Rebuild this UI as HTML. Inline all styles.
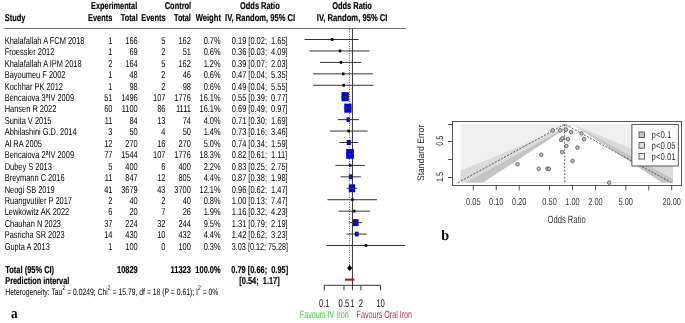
<!DOCTYPE html>
<html><head><meta charset="utf-8"><style>
html,body{margin:0;padding:0;background:#fff;width:685px;height:323px;overflow:hidden}
svg{display:block;font-family:"Liberation Sans",sans-serif;will-change:transform;text-rendering:geometricPrecision;filter:blur(0.3px)}
</style></head><body>
<svg width="685" height="323" viewBox="0 0 685 323">
<g><line x1="4.3" y1="28.5" x2="406" y2="28.5" stroke="#6e6e6e" stroke-width="1.1"/><line x1="352.45" y1="28.5" x2="352.45" y2="285.3" stroke="#333" stroke-width="1"/><line x1="349.57" y1="29" x2="349.57" y2="266" stroke="#555" stroke-width="1" stroke-dasharray="1,1.4"/><rect x="341.50" y="92.17" width="7.29" height="9.11" fill="#0000dd"/><rect x="344.27" y="103.61" width="7.29" height="9.11" fill="#0000dd"/><rect x="346.45" y="117.34" width="3.63" height="4.54" fill="#0000dd"/><rect x="346.74" y="139.96" width="4.06" height="5.08" fill="#0000dd"/><rect x="346.14" y="149.08" width="7.77" height="9.71" fill="#0000dd"/><rect x="348.84" y="174.45" width="3.81" height="4.76" fill="#0000dd"/><rect x="348.79" y="184.32" width="6.32" height="7.90" fill="#0000dd"/><rect x="352.95" y="219.11" width="5.60" height="7.00" fill="#0000dd"/><rect x="354.83" y="231.67" width="3.81" height="4.76" fill="#0000dd"/><line x1="304.62" y1="39.50" x2="358.57" y2="39.50" stroke="#333" stroke-width="1"/><line x1="309.58" y1="50.94" x2="369.67" y2="50.94" stroke="#333" stroke-width="1"/><line x1="319.94" y1="62.39" x2="361.11" y2="62.39" stroke="#333" stroke-width="1"/><line x1="313.10" y1="73.83" x2="372.95" y2="73.83" stroke="#333" stroke-width="1"/><line x1="313.10" y1="85.28" x2="373.40" y2="85.28" stroke="#333" stroke-width="1"/><line x1="340.94" y1="96.72" x2="349.25" y2="96.72" stroke="#333" stroke-width="1"/><line x1="343.73" y1="108.16" x2="352.08" y2="108.16" stroke="#333" stroke-width="1"/><line x1="337.73" y1="119.61" x2="358.87" y2="119.61" stroke="#333" stroke-width="1"/><line x1="330.05" y1="131.05" x2="367.62" y2="131.05" stroke="#333" stroke-width="1"/><line x1="339.26" y1="142.50" x2="358.12" y2="142.50" stroke="#333" stroke-width="1"/><line x1="346.41" y1="153.94" x2="353.73" y2="153.94" stroke="#333" stroke-width="1"/><line x1="335.50" y1="165.38" x2="364.82" y2="165.38" stroke="#333" stroke-width="1"/><line x1="340.62" y1="176.83" x2="360.80" y2="176.83" stroke="#333" stroke-width="1"/><line x1="346.61" y1="188.27" x2="357.16" y2="188.27" stroke="#333" stroke-width="1"/><line x1="327.51" y1="199.72" x2="377.03" y2="199.72" stroke="#333" stroke-width="1"/><line x1="338.52" y1="211.16" x2="370.08" y2="211.16" stroke="#333" stroke-width="1"/><line x1="349.57" y1="222.60" x2="362.03" y2="222.60" stroke="#333" stroke-width="1"/><line x1="346.61" y1="234.05" x2="366.78" y2="234.05" stroke="#333" stroke-width="1"/><line x1="326.53" y1="245.49" x2="405.28" y2="245.49" stroke="#333" stroke-width="1"/><rect x="330.95" y="38.10" width="2.4" height="2.8" fill="#000040"/><rect x="338.76" y="49.54" width="2.4" height="2.8" fill="#000040"/><rect x="339.74" y="60.99" width="2.4" height="2.8" fill="#000040"/><rect x="342.02" y="72.43" width="2.4" height="2.8" fill="#000040"/><rect x="342.53" y="83.88" width="2.4" height="2.8" fill="#000040"/><rect x="347.40" y="129.65" width="2.4" height="2.8" fill="#000040"/><rect x="348.97" y="163.98" width="2.4" height="2.8" fill="#000040"/><rect x="351.25" y="198.32" width="2.4" height="2.8" fill="#000040"/><rect x="353.06" y="209.76" width="2.4" height="2.8" fill="#000040"/><rect x="364.80" y="244.09" width="2.4" height="2.8" fill="#000040"/><polygon points="347.1,268.1 349.57,265.1 352.3,268.1 349.57,271.1" fill="#000"/><rect x="344.92" y="278.6" width="9.45" height="2.1" fill="#a01c1c"/><line x1="324.30" y1="285.3" x2="380.60" y2="285.3" stroke="#333" stroke-width="1"/><line x1="324.30" y1="285.3" x2="324.30" y2="290.3" stroke="#333" stroke-width="1"/><line x1="343.98" y1="285.3" x2="343.98" y2="290.3" stroke="#333" stroke-width="1"/><line x1="352.45" y1="285.3" x2="352.45" y2="290.3" stroke="#333" stroke-width="1"/><line x1="360.92" y1="285.3" x2="360.92" y2="290.3" stroke="#333" stroke-width="1"/><line x1="380.60" y1="285.3" x2="380.60" y2="290.3" stroke="#333" stroke-width="1"/></g>
<g><rect x="460.6" y="124.2" width="212.39999999999998" height="58.41" fill="#efefef"/><polygon points="460.60,170.85 572.50,124.20 673.00,166.10 673.00,182.61 460.60,182.61" fill="#dadada"/><polygon points="572.50,124.20 673.00,179.26 673.00,182.61 465.89,182.61" fill="#c3c3c3"/><polygon points="572.50,124.20 661.97,182.61 483.03,182.61" fill="#ffffff"/><polyline points="458.08,182.61 564.70,124.2 671.31,182.61" fill="none" stroke="#333" stroke-width="0.8" stroke-dasharray="2,1.5"/><line x1="564.70" y1="124.2" x2="564.70" y2="182.61" stroke="#333" stroke-width="0.8" stroke-dasharray="2,1.5"/><ellipse cx="517.52" cy="164.22" rx="1.75" ry="1.85" fill="#c0c0c0" stroke="#5a5a5a" stroke-width="0.85"/><ellipse cx="538.68" cy="168.77" rx="1.75" ry="1.85" fill="#c0c0c0" stroke="#5a5a5a" stroke-width="0.85"/><ellipse cx="541.33" cy="154.74" rx="1.75" ry="1.85" fill="#c0c0c0" stroke="#5a5a5a" stroke-width="0.85"/><ellipse cx="547.50" cy="168.60" rx="1.75" ry="1.85" fill="#c0c0c0" stroke="#5a5a5a" stroke-width="0.85"/><ellipse cx="548.88" cy="168.93" rx="1.75" ry="1.85" fill="#c0c0c0" stroke="#5a5a5a" stroke-width="0.85"/><ellipse cx="552.71" cy="130.37" rx="1.75" ry="1.85" fill="#c0c0c0" stroke="#5a5a5a" stroke-width="0.85"/><ellipse cx="560.22" cy="130.39" rx="1.75" ry="1.85" fill="#c0c0c0" stroke="#5a5a5a" stroke-width="0.85"/><ellipse cx="561.16" cy="139.88" rx="1.75" ry="1.85" fill="#c0c0c0" stroke="#5a5a5a" stroke-width="0.85"/><ellipse cx="562.08" cy="152.08" rx="1.75" ry="1.85" fill="#c0c0c0" stroke="#5a5a5a" stroke-width="0.85"/><ellipse cx="562.53" cy="138.19" rx="1.75" ry="1.85" fill="#c0c0c0" stroke="#5a5a5a" stroke-width="0.85"/><ellipse cx="565.93" cy="129.63" rx="1.75" ry="1.85" fill="#c0c0c0" stroke="#5a5a5a" stroke-width="0.85"/><ellipse cx="566.33" cy="145.95" rx="1.75" ry="1.85" fill="#c0c0c0" stroke="#5a5a5a" stroke-width="0.85"/><ellipse cx="567.89" cy="139.17" rx="1.75" ry="1.85" fill="#c0c0c0" stroke="#5a5a5a" stroke-width="0.85"/><ellipse cx="571.15" cy="132.03" rx="1.75" ry="1.85" fill="#c0c0c0" stroke="#5a5a5a" stroke-width="0.85"/><ellipse cx="572.50" cy="160.94" rx="1.75" ry="1.85" fill="#c0c0c0" stroke="#5a5a5a" stroke-width="0.85"/><ellipse cx="577.41" cy="147.61" rx="1.75" ry="1.85" fill="#c0c0c0" stroke="#5a5a5a" stroke-width="0.85"/><ellipse cx="581.44" cy="133.45" rx="1.75" ry="1.85" fill="#c0c0c0" stroke="#5a5a5a" stroke-width="0.85"/><ellipse cx="584.11" cy="139.17" rx="1.75" ry="1.85" fill="#c0c0c0" stroke="#5a5a5a" stroke-width="0.85"/><ellipse cx="609.20" cy="182.62" rx="1.75" ry="1.85" fill="#c0c0c0" stroke="#5a5a5a" stroke-width="0.85"/><rect x="452.5" y="121.5" width="229.0" height="64.0" fill="none" stroke="#444" stroke-width="0.9"/><line x1="448.0" y1="124.50" x2="452.5" y2="124.50" stroke="#444" stroke-width="0.9"/><line x1="448.0" y1="141.50" x2="452.5" y2="141.50" stroke="#444" stroke-width="0.9"/><line x1="448.0" y1="159.50" x2="452.5" y2="159.50" stroke="#444" stroke-width="0.9"/><line x1="448.0" y1="177.50" x2="452.5" y2="177.50" stroke="#444" stroke-width="0.9"/><line x1="473.32" y1="185.5" x2="473.32" y2="190.5" stroke="#444" stroke-width="0.9"/><line x1="496.27" y1="185.5" x2="496.27" y2="190.5" stroke="#444" stroke-width="0.9"/><line x1="519.22" y1="185.5" x2="519.22" y2="190.5" stroke="#444" stroke-width="0.9"/><line x1="549.55" y1="185.5" x2="549.55" y2="190.5" stroke="#444" stroke-width="0.9"/><line x1="572.50" y1="185.5" x2="572.50" y2="190.5" stroke="#444" stroke-width="0.9"/><line x1="595.45" y1="185.5" x2="595.45" y2="190.5" stroke="#444" stroke-width="0.9"/><line x1="625.78" y1="185.5" x2="625.78" y2="190.5" stroke="#444" stroke-width="0.9"/><line x1="648.73" y1="185.5" x2="648.73" y2="190.5" stroke="#444" stroke-width="0.9"/><line x1="671.68" y1="185.5" x2="671.68" y2="190.5" stroke="#444" stroke-width="0.9"/><rect x="631.9" y="124.4" width="46.4" height="41.6" fill="#fff" stroke="#444" stroke-width="0.9"/><rect x="639.0" y="132.0" width="5.4" height="5.6" fill="#c3c3c3" stroke="#444" stroke-width="0.8"/><rect x="639.0" y="142.6" width="5.4" height="5.6" fill="#dadada" stroke="#444" stroke-width="0.8"/><rect x="639.0" y="153.5" width="5.4" height="5.6" fill="#efefef" stroke="#444" stroke-width="0.8"/></g>
<g><text x="4.80" y="20.50" font-size="10.0" font-weight="bold" fill="#000" stroke="#000" stroke-width="0.18" textLength="20.67" lengthAdjust="spacingAndGlyphs">Study</text><text x="91.10" y="9.00" font-size="10.0" font-weight="bold" fill="#000" stroke="#000" stroke-width="0.18" textLength="46.10" lengthAdjust="spacingAndGlyphs">Experimental</text><text x="88.10" y="20.50" font-size="10.0" font-weight="bold" fill="#000" stroke="#000" stroke-width="0.18" textLength="24.20" lengthAdjust="spacingAndGlyphs">Events</text><text x="120.80" y="20.50" font-size="10.0" font-weight="bold" fill="#000" stroke="#000" stroke-width="0.18" textLength="16.90" lengthAdjust="spacingAndGlyphs">Total</text><text x="164.70" y="9.10" font-size="10.0" font-weight="bold" fill="#000" stroke="#000" stroke-width="0.18" textLength="26.50" lengthAdjust="spacingAndGlyphs">Control</text><text x="141.30" y="20.50" font-size="10.0" font-weight="bold" fill="#000" stroke="#000" stroke-width="0.18" textLength="24.20" lengthAdjust="spacingAndGlyphs">Events</text><text x="174.00" y="20.50" font-size="10.0" font-weight="bold" fill="#000" stroke="#000" stroke-width="0.18" textLength="16.90" lengthAdjust="spacingAndGlyphs">Total</text><text x="195.70" y="20.50" font-size="10.0" font-weight="bold" fill="#000" stroke="#000" stroke-width="0.18" textLength="25.30" lengthAdjust="spacingAndGlyphs">Weight</text><text x="240.00" y="8.70" font-size="10.0" font-weight="bold" fill="#000" stroke="#000" stroke-width="0.18" textLength="39.70" lengthAdjust="spacingAndGlyphs">Odds Ratio</text><text x="225.10" y="20.50" font-size="10.0" font-weight="bold" fill="#000" stroke="#000" stroke-width="0.18" textLength="70.00" lengthAdjust="spacingAndGlyphs">IV, Random, 95% CI</text><text x="332.20" y="8.70" font-size="10.0" font-weight="bold" fill="#000" stroke="#000" stroke-width="0.18" textLength="39.70" lengthAdjust="spacingAndGlyphs">Odds Ratio</text><text x="316.80" y="20.50" font-size="10.0" font-weight="bold" fill="#000" stroke="#000" stroke-width="0.18" textLength="70.70" lengthAdjust="spacingAndGlyphs">IV, Random, 95% CI</text><text x="4.70" y="43.80" font-size="10.0" font-weight="normal" fill="#000" textLength="79.82" lengthAdjust="spacingAndGlyphs">Khalafallah A FCM 2018</text><text x="108.26" y="43.80" font-size="10.0" font-weight="normal" fill="#000" textLength="4.14" lengthAdjust="spacingAndGlyphs">1</text><text x="125.29" y="43.80" font-size="10.0" font-weight="normal" fill="#000" textLength="12.41" lengthAdjust="spacingAndGlyphs">166</text><text x="161.36" y="43.80" font-size="10.0" font-weight="normal" fill="#000" textLength="4.14" lengthAdjust="spacingAndGlyphs">5</text><text x="178.49" y="43.80" font-size="10.0" font-weight="normal" fill="#000" textLength="12.41" lengthAdjust="spacingAndGlyphs">162</text><text x="203.64" y="43.80" font-size="10.0" font-weight="normal" fill="#000" textLength="16.96" lengthAdjust="spacingAndGlyphs">0.7%</text><text x="231.80" y="43.80" font-size="10.0" font-weight="normal" fill="#000" textLength="55.84" lengthAdjust="spacingAndGlyphs" style="white-space:pre">0.19 [0.02;  1.65]</text><text x="4.70" y="55.24" font-size="10.0" font-weight="normal" fill="#000" textLength="49.62" lengthAdjust="spacingAndGlyphs">Froessler 2012</text><text x="108.26" y="55.24" font-size="10.0" font-weight="normal" fill="#000" textLength="4.14" lengthAdjust="spacingAndGlyphs">1</text><text x="129.43" y="55.24" font-size="10.0" font-weight="normal" fill="#000" textLength="8.27" lengthAdjust="spacingAndGlyphs">69</text><text x="161.36" y="55.24" font-size="10.0" font-weight="normal" fill="#000" textLength="4.14" lengthAdjust="spacingAndGlyphs">2</text><text x="182.63" y="55.24" font-size="10.0" font-weight="normal" fill="#000" textLength="8.27" lengthAdjust="spacingAndGlyphs">51</text><text x="203.64" y="55.24" font-size="10.0" font-weight="normal" fill="#000" textLength="16.96" lengthAdjust="spacingAndGlyphs">0.6%</text><text x="231.80" y="55.24" font-size="10.0" font-weight="normal" fill="#000" textLength="55.84" lengthAdjust="spacingAndGlyphs" style="white-space:pre">0.36 [0.03;  4.09]</text><text x="4.70" y="66.69" font-size="10.0" font-weight="normal" fill="#000" textLength="76.93" lengthAdjust="spacingAndGlyphs">Khalafallah A IPM 2018</text><text x="108.26" y="66.69" font-size="10.0" font-weight="normal" fill="#000" textLength="4.14" lengthAdjust="spacingAndGlyphs">2</text><text x="125.29" y="66.69" font-size="10.0" font-weight="normal" fill="#000" textLength="12.41" lengthAdjust="spacingAndGlyphs">164</text><text x="161.36" y="66.69" font-size="10.0" font-weight="normal" fill="#000" textLength="4.14" lengthAdjust="spacingAndGlyphs">5</text><text x="178.49" y="66.69" font-size="10.0" font-weight="normal" fill="#000" textLength="12.41" lengthAdjust="spacingAndGlyphs">162</text><text x="203.64" y="66.69" font-size="10.0" font-weight="normal" fill="#000" textLength="16.96" lengthAdjust="spacingAndGlyphs">1.2%</text><text x="231.80" y="66.69" font-size="10.0" font-weight="normal" fill="#000" textLength="55.84" lengthAdjust="spacingAndGlyphs" style="white-space:pre">0.39 [0.07;  2.03]</text><text x="4.70" y="78.13" font-size="10.0" font-weight="normal" fill="#000" textLength="60.79" lengthAdjust="spacingAndGlyphs">Bayoumeu F 2002</text><text x="108.26" y="78.13" font-size="10.0" font-weight="normal" fill="#000" textLength="4.14" lengthAdjust="spacingAndGlyphs">1</text><text x="129.43" y="78.13" font-size="10.0" font-weight="normal" fill="#000" textLength="8.27" lengthAdjust="spacingAndGlyphs">48</text><text x="161.36" y="78.13" font-size="10.0" font-weight="normal" fill="#000" textLength="4.14" lengthAdjust="spacingAndGlyphs">2</text><text x="182.63" y="78.13" font-size="10.0" font-weight="normal" fill="#000" textLength="8.27" lengthAdjust="spacingAndGlyphs">46</text><text x="203.64" y="78.13" font-size="10.0" font-weight="normal" fill="#000" textLength="16.96" lengthAdjust="spacingAndGlyphs">0.6%</text><text x="231.80" y="78.13" font-size="10.0" font-weight="normal" fill="#000" textLength="55.84" lengthAdjust="spacingAndGlyphs" style="white-space:pre">0.47 [0.04;  5.35]</text><text x="4.70" y="89.58" font-size="10.0" font-weight="normal" fill="#000" textLength="58.32" lengthAdjust="spacingAndGlyphs">Kochhar PK 2012</text><text x="108.26" y="89.58" font-size="10.0" font-weight="normal" fill="#000" textLength="4.14" lengthAdjust="spacingAndGlyphs">1</text><text x="129.43" y="89.58" font-size="10.0" font-weight="normal" fill="#000" textLength="8.27" lengthAdjust="spacingAndGlyphs">98</text><text x="161.36" y="89.58" font-size="10.0" font-weight="normal" fill="#000" textLength="4.14" lengthAdjust="spacingAndGlyphs">2</text><text x="182.63" y="89.58" font-size="10.0" font-weight="normal" fill="#000" textLength="8.27" lengthAdjust="spacingAndGlyphs">98</text><text x="203.64" y="89.58" font-size="10.0" font-weight="normal" fill="#000" textLength="16.96" lengthAdjust="spacingAndGlyphs">0.6%</text><text x="231.80" y="89.58" font-size="10.0" font-weight="normal" fill="#000" textLength="55.84" lengthAdjust="spacingAndGlyphs" style="white-space:pre">0.49 [0.04;  5.55]</text><text x="4.70" y="101.02" font-size="10.0" font-weight="normal" fill="#000" textLength="69.35" lengthAdjust="spacingAndGlyphs">Bencaiova 3ªIV 2009</text><text x="104.13" y="101.02" font-size="10.0" font-weight="normal" fill="#000" textLength="8.27" lengthAdjust="spacingAndGlyphs">51</text><text x="121.15" y="101.02" font-size="10.0" font-weight="normal" fill="#000" textLength="16.55" lengthAdjust="spacingAndGlyphs">1496</text><text x="153.09" y="101.02" font-size="10.0" font-weight="normal" fill="#000" textLength="12.41" lengthAdjust="spacingAndGlyphs">107</text><text x="174.35" y="101.02" font-size="10.0" font-weight="normal" fill="#000" textLength="16.55" lengthAdjust="spacingAndGlyphs">1776</text><text x="199.51" y="101.02" font-size="10.0" font-weight="normal" fill="#000" textLength="21.09" lengthAdjust="spacingAndGlyphs">16.1%</text><text x="231.80" y="101.02" font-size="10.0" font-weight="normal" fill="#000" textLength="55.84" lengthAdjust="spacingAndGlyphs" style="white-space:pre">0.55 [0.39;  0.77]</text><text x="4.70" y="112.46" font-size="10.0" font-weight="normal" fill="#000" textLength="51.70" lengthAdjust="spacingAndGlyphs">Hansen R 2022</text><text x="104.13" y="112.46" font-size="10.0" font-weight="normal" fill="#000" textLength="8.27" lengthAdjust="spacingAndGlyphs">60</text><text x="121.70" y="112.46" font-size="10.0" font-weight="normal" fill="#000" textLength="16.00" lengthAdjust="spacingAndGlyphs">1100</text><text x="157.23" y="112.46" font-size="10.0" font-weight="normal" fill="#000" textLength="8.27" lengthAdjust="spacingAndGlyphs">86</text><text x="176.01" y="112.46" font-size="10.0" font-weight="normal" fill="#000" textLength="14.89" lengthAdjust="spacingAndGlyphs">1111</text><text x="199.51" y="112.46" font-size="10.0" font-weight="normal" fill="#000" textLength="21.09" lengthAdjust="spacingAndGlyphs">16.1%</text><text x="231.80" y="112.46" font-size="10.0" font-weight="normal" fill="#000" textLength="55.84" lengthAdjust="spacingAndGlyphs" style="white-space:pre">0.69 [0.49;  0.97]</text><text x="4.70" y="123.91" font-size="10.0" font-weight="normal" fill="#000" textLength="46.74" lengthAdjust="spacingAndGlyphs">Sunita V 2015</text><text x="104.68" y="123.91" font-size="10.0" font-weight="normal" fill="#000" textLength="7.72" lengthAdjust="spacingAndGlyphs">11</text><text x="129.43" y="123.91" font-size="10.0" font-weight="normal" fill="#000" textLength="8.27" lengthAdjust="spacingAndGlyphs">84</text><text x="157.23" y="123.91" font-size="10.0" font-weight="normal" fill="#000" textLength="8.27" lengthAdjust="spacingAndGlyphs">13</text><text x="182.63" y="123.91" font-size="10.0" font-weight="normal" fill="#000" textLength="8.27" lengthAdjust="spacingAndGlyphs">74</text><text x="203.64" y="123.91" font-size="10.0" font-weight="normal" fill="#000" textLength="16.96" lengthAdjust="spacingAndGlyphs">4.0%</text><text x="231.80" y="123.91" font-size="10.0" font-weight="normal" fill="#000" textLength="55.84" lengthAdjust="spacingAndGlyphs" style="white-space:pre">0.71 [0.30;  1.69]</text><text x="4.70" y="135.35" font-size="10.0" font-weight="normal" fill="#000" textLength="71.96" lengthAdjust="spacingAndGlyphs">Abhilashini G.D. 2014</text><text x="108.26" y="135.35" font-size="10.0" font-weight="normal" fill="#000" textLength="4.14" lengthAdjust="spacingAndGlyphs">3</text><text x="129.43" y="135.35" font-size="10.0" font-weight="normal" fill="#000" textLength="8.27" lengthAdjust="spacingAndGlyphs">50</text><text x="161.36" y="135.35" font-size="10.0" font-weight="normal" fill="#000" textLength="4.14" lengthAdjust="spacingAndGlyphs">4</text><text x="182.63" y="135.35" font-size="10.0" font-weight="normal" fill="#000" textLength="8.27" lengthAdjust="spacingAndGlyphs">50</text><text x="203.64" y="135.35" font-size="10.0" font-weight="normal" fill="#000" textLength="16.96" lengthAdjust="spacingAndGlyphs">1.4%</text><text x="231.80" y="135.35" font-size="10.0" font-weight="normal" fill="#000" textLength="55.84" lengthAdjust="spacingAndGlyphs" style="white-space:pre">0.73 [0.16;  3.46]</text><text x="4.70" y="146.80" font-size="10.0" font-weight="normal" fill="#000" textLength="37.22" lengthAdjust="spacingAndGlyphs">Al RA 2005</text><text x="104.13" y="146.80" font-size="10.0" font-weight="normal" fill="#000" textLength="8.27" lengthAdjust="spacingAndGlyphs">12</text><text x="125.29" y="146.80" font-size="10.0" font-weight="normal" fill="#000" textLength="12.41" lengthAdjust="spacingAndGlyphs">270</text><text x="157.23" y="146.80" font-size="10.0" font-weight="normal" fill="#000" textLength="8.27" lengthAdjust="spacingAndGlyphs">16</text><text x="178.49" y="146.80" font-size="10.0" font-weight="normal" fill="#000" textLength="12.41" lengthAdjust="spacingAndGlyphs">270</text><text x="203.64" y="146.80" font-size="10.0" font-weight="normal" fill="#000" textLength="16.96" lengthAdjust="spacingAndGlyphs">5.0%</text><text x="231.80" y="146.80" font-size="10.0" font-weight="normal" fill="#000" textLength="55.84" lengthAdjust="spacingAndGlyphs" style="white-space:pre">0.74 [0.34;  1.59]</text><text x="4.70" y="158.24" font-size="10.0" font-weight="normal" fill="#000" textLength="69.35" lengthAdjust="spacingAndGlyphs">Bencaiova 2ªIV 2009</text><text x="104.13" y="158.24" font-size="10.0" font-weight="normal" fill="#000" textLength="8.27" lengthAdjust="spacingAndGlyphs">77</text><text x="121.15" y="158.24" font-size="10.0" font-weight="normal" fill="#000" textLength="16.55" lengthAdjust="spacingAndGlyphs">1544</text><text x="153.09" y="158.24" font-size="10.0" font-weight="normal" fill="#000" textLength="12.41" lengthAdjust="spacingAndGlyphs">107</text><text x="174.35" y="158.24" font-size="10.0" font-weight="normal" fill="#000" textLength="16.55" lengthAdjust="spacingAndGlyphs">1776</text><text x="199.51" y="158.24" font-size="10.0" font-weight="normal" fill="#000" textLength="21.09" lengthAdjust="spacingAndGlyphs">18.3%</text><text x="231.80" y="158.24" font-size="10.0" font-weight="normal" fill="#000" textLength="55.29" lengthAdjust="spacingAndGlyphs" style="white-space:pre">0.82 [0.61;  1.11]</text><text x="4.70" y="169.68" font-size="10.0" font-weight="normal" fill="#000" textLength="47.15" lengthAdjust="spacingAndGlyphs">Dubey S 2013</text><text x="108.26" y="169.68" font-size="10.0" font-weight="normal" fill="#000" textLength="4.14" lengthAdjust="spacingAndGlyphs">5</text><text x="125.29" y="169.68" font-size="10.0" font-weight="normal" fill="#000" textLength="12.41" lengthAdjust="spacingAndGlyphs">400</text><text x="161.36" y="169.68" font-size="10.0" font-weight="normal" fill="#000" textLength="4.14" lengthAdjust="spacingAndGlyphs">6</text><text x="178.49" y="169.68" font-size="10.0" font-weight="normal" fill="#000" textLength="12.41" lengthAdjust="spacingAndGlyphs">400</text><text x="203.64" y="169.68" font-size="10.0" font-weight="normal" fill="#000" textLength="16.96" lengthAdjust="spacingAndGlyphs">2.2%</text><text x="231.80" y="169.68" font-size="10.0" font-weight="normal" fill="#000" textLength="55.84" lengthAdjust="spacingAndGlyphs" style="white-space:pre">0.83 [0.25;  2.75]</text><text x="4.70" y="181.13" font-size="10.0" font-weight="normal" fill="#000" textLength="59.96" lengthAdjust="spacingAndGlyphs">Breymann C 2016</text><text x="104.68" y="181.13" font-size="10.0" font-weight="normal" fill="#000" textLength="7.72" lengthAdjust="spacingAndGlyphs">11</text><text x="125.29" y="181.13" font-size="10.0" font-weight="normal" fill="#000" textLength="12.41" lengthAdjust="spacingAndGlyphs">847</text><text x="157.23" y="181.13" font-size="10.0" font-weight="normal" fill="#000" textLength="8.27" lengthAdjust="spacingAndGlyphs">12</text><text x="178.49" y="181.13" font-size="10.0" font-weight="normal" fill="#000" textLength="12.41" lengthAdjust="spacingAndGlyphs">805</text><text x="203.64" y="181.13" font-size="10.0" font-weight="normal" fill="#000" textLength="16.96" lengthAdjust="spacingAndGlyphs">4.4%</text><text x="231.80" y="181.13" font-size="10.0" font-weight="normal" fill="#000" textLength="55.84" lengthAdjust="spacingAndGlyphs" style="white-space:pre">0.87 [0.38;  1.98]</text><text x="4.70" y="192.57" font-size="10.0" font-weight="normal" fill="#000" textLength="50.05" lengthAdjust="spacingAndGlyphs">Neogi SB 2019</text><text x="104.13" y="192.57" font-size="10.0" font-weight="normal" fill="#000" textLength="8.27" lengthAdjust="spacingAndGlyphs">41</text><text x="121.15" y="192.57" font-size="10.0" font-weight="normal" fill="#000" textLength="16.55" lengthAdjust="spacingAndGlyphs">3679</text><text x="157.23" y="192.57" font-size="10.0" font-weight="normal" fill="#000" textLength="8.27" lengthAdjust="spacingAndGlyphs">43</text><text x="174.35" y="192.57" font-size="10.0" font-weight="normal" fill="#000" textLength="16.55" lengthAdjust="spacingAndGlyphs">3700</text><text x="199.51" y="192.57" font-size="10.0" font-weight="normal" fill="#000" textLength="21.09" lengthAdjust="spacingAndGlyphs">12.1%</text><text x="231.80" y="192.57" font-size="10.0" font-weight="normal" fill="#000" textLength="55.84" lengthAdjust="spacingAndGlyphs" style="white-space:pre">0.96 [0.62;  1.47]</text><text x="4.70" y="204.02" font-size="10.0" font-weight="normal" fill="#000" textLength="67.28" lengthAdjust="spacingAndGlyphs">Ruangvutiler P 2017</text><text x="108.26" y="204.02" font-size="10.0" font-weight="normal" fill="#000" textLength="4.14" lengthAdjust="spacingAndGlyphs">2</text><text x="129.43" y="204.02" font-size="10.0" font-weight="normal" fill="#000" textLength="8.27" lengthAdjust="spacingAndGlyphs">40</text><text x="161.36" y="204.02" font-size="10.0" font-weight="normal" fill="#000" textLength="4.14" lengthAdjust="spacingAndGlyphs">2</text><text x="182.63" y="204.02" font-size="10.0" font-weight="normal" fill="#000" textLength="8.27" lengthAdjust="spacingAndGlyphs">40</text><text x="203.64" y="204.02" font-size="10.0" font-weight="normal" fill="#000" textLength="16.96" lengthAdjust="spacingAndGlyphs">0.8%</text><text x="231.80" y="204.02" font-size="10.0" font-weight="normal" fill="#000" textLength="55.84" lengthAdjust="spacingAndGlyphs" style="white-space:pre">1.00 [0.13;  7.47]</text><text x="4.70" y="215.46" font-size="10.0" font-weight="normal" fill="#000" textLength="64.52" lengthAdjust="spacingAndGlyphs">Lewkowitz AK 2022</text><text x="108.26" y="215.46" font-size="10.0" font-weight="normal" fill="#000" textLength="4.14" lengthAdjust="spacingAndGlyphs">6</text><text x="129.43" y="215.46" font-size="10.0" font-weight="normal" fill="#000" textLength="8.27" lengthAdjust="spacingAndGlyphs">20</text><text x="161.36" y="215.46" font-size="10.0" font-weight="normal" fill="#000" textLength="4.14" lengthAdjust="spacingAndGlyphs">7</text><text x="182.63" y="215.46" font-size="10.0" font-weight="normal" fill="#000" textLength="8.27" lengthAdjust="spacingAndGlyphs">26</text><text x="203.64" y="215.46" font-size="10.0" font-weight="normal" fill="#000" textLength="16.96" lengthAdjust="spacingAndGlyphs">1.9%</text><text x="231.80" y="215.46" font-size="10.0" font-weight="normal" fill="#000" textLength="55.84" lengthAdjust="spacingAndGlyphs" style="white-space:pre">1.16 [0.32;  4.23]</text><text x="4.70" y="226.90" font-size="10.0" font-weight="normal" fill="#000" textLength="56.25" lengthAdjust="spacingAndGlyphs">Chauhan N 2023</text><text x="104.13" y="226.90" font-size="10.0" font-weight="normal" fill="#000" textLength="8.27" lengthAdjust="spacingAndGlyphs">37</text><text x="125.29" y="226.90" font-size="10.0" font-weight="normal" fill="#000" textLength="12.41" lengthAdjust="spacingAndGlyphs">224</text><text x="157.23" y="226.90" font-size="10.0" font-weight="normal" fill="#000" textLength="8.27" lengthAdjust="spacingAndGlyphs">32</text><text x="178.49" y="226.90" font-size="10.0" font-weight="normal" fill="#000" textLength="12.41" lengthAdjust="spacingAndGlyphs">244</text><text x="203.64" y="226.90" font-size="10.0" font-weight="normal" fill="#000" textLength="16.96" lengthAdjust="spacingAndGlyphs">9.5%</text><text x="231.80" y="226.90" font-size="10.0" font-weight="normal" fill="#000" textLength="55.84" lengthAdjust="spacingAndGlyphs" style="white-space:pre">1.31 [0.79;  2.19]</text><text x="4.70" y="238.35" font-size="10.0" font-weight="normal" fill="#000" textLength="59.96" lengthAdjust="spacingAndGlyphs">Pasricha SR 2023</text><text x="104.13" y="238.35" font-size="10.0" font-weight="normal" fill="#000" textLength="8.27" lengthAdjust="spacingAndGlyphs">14</text><text x="125.29" y="238.35" font-size="10.0" font-weight="normal" fill="#000" textLength="12.41" lengthAdjust="spacingAndGlyphs">430</text><text x="157.23" y="238.35" font-size="10.0" font-weight="normal" fill="#000" textLength="8.27" lengthAdjust="spacingAndGlyphs">10</text><text x="178.49" y="238.35" font-size="10.0" font-weight="normal" fill="#000" textLength="12.41" lengthAdjust="spacingAndGlyphs">432</text><text x="203.64" y="238.35" font-size="10.0" font-weight="normal" fill="#000" textLength="16.96" lengthAdjust="spacingAndGlyphs">4.4%</text><text x="231.80" y="238.35" font-size="10.0" font-weight="normal" fill="#000" textLength="55.84" lengthAdjust="spacingAndGlyphs" style="white-space:pre">1.42 [0.62;  3.23]</text><text x="4.70" y="249.79" font-size="10.0" font-weight="normal" fill="#000" textLength="45.09" lengthAdjust="spacingAndGlyphs">Gupta A 2013</text><text x="108.26" y="249.79" font-size="10.0" font-weight="normal" fill="#000" textLength="4.14" lengthAdjust="spacingAndGlyphs">1</text><text x="125.29" y="249.79" font-size="10.0" font-weight="normal" fill="#000" textLength="12.41" lengthAdjust="spacingAndGlyphs">100</text><text x="161.36" y="249.79" font-size="10.0" font-weight="normal" fill="#000" textLength="4.14" lengthAdjust="spacingAndGlyphs">0</text><text x="178.49" y="249.79" font-size="10.0" font-weight="normal" fill="#000" textLength="12.41" lengthAdjust="spacingAndGlyphs">100</text><text x="203.64" y="249.79" font-size="10.0" font-weight="normal" fill="#000" textLength="16.96" lengthAdjust="spacingAndGlyphs">0.3%</text><text x="231.80" y="249.79" font-size="10.0" font-weight="normal" fill="#000" textLength="56.30" lengthAdjust="spacingAndGlyphs" style="white-space:pre">3.03 [0.12; 75.28]</text><text x="5.30" y="273.10" font-size="10.0" font-weight="bold" fill="#000" stroke="#000" stroke-width="0.18" textLength="48.80" lengthAdjust="spacingAndGlyphs">Total (95% CI)</text><text x="117.01" y="273.10" font-size="10.0" font-weight="bold" fill="#000" stroke="#000" stroke-width="0.18" textLength="20.69" lengthAdjust="spacingAndGlyphs">10829</text><text x="170.62" y="273.10" font-size="10.0" font-weight="bold" fill="#000" stroke="#000" stroke-width="0.18" textLength="20.28" lengthAdjust="spacingAndGlyphs">11323</text><text x="195.37" y="273.10" font-size="10.0" font-weight="bold" fill="#000" stroke="#000" stroke-width="0.18" textLength="25.23" lengthAdjust="spacingAndGlyphs">100.0%</text><text x="231.30" y="273.10" font-size="10.0" font-weight="bold" fill="#000" stroke="#000" stroke-width="0.18" textLength="56.80" lengthAdjust="spacingAndGlyphs" style="white-space:pre">0.79 [0.66;  0.95]</text><text x="5.30" y="284.00" font-size="10.0" font-weight="bold" fill="#000" stroke="#000" stroke-width="0.18" textLength="64.00" lengthAdjust="spacingAndGlyphs">Prediction interval</text><text x="239.30" y="284.00" font-size="10.0" font-weight="bold" fill="#000" stroke="#000" stroke-width="0.18" textLength="40.40" lengthAdjust="spacingAndGlyphs" style="white-space:pre">[0.54;  1.17]</text><text x="5.30" y="294.90" font-size="9.30" textLength="57.09" lengthAdjust="spacingAndGlyphs" style="white-space:pre">Heterogeneity: Tau</text><text x="62.39" y="290.30" font-size="6.98" textLength="2.84" lengthAdjust="spacingAndGlyphs" style="white-space:pre">2</text><text x="65.24" y="294.90" font-size="9.30" textLength="42.63" lengthAdjust="spacingAndGlyphs" style="white-space:pre"> = 0.0249; Chi</text><text x="107.87" y="290.30" font-size="6.98" textLength="2.84" lengthAdjust="spacingAndGlyphs" style="white-space:pre">2</text><text x="110.71" y="294.90" font-size="9.30" textLength="87.22" lengthAdjust="spacingAndGlyphs" style="white-space:pre"> = 15.79, df = 18 (P = 0.61); I</text><text x="197.94" y="290.30" font-size="6.98" textLength="2.84" lengthAdjust="spacingAndGlyphs" style="white-space:pre">2</text><text x="200.78" y="294.90" font-size="9.30" textLength="17.62" lengthAdjust="spacingAndGlyphs" style="white-space:pre"> = 0%</text><text x="318.95" y="307.00" font-size="11" font-weight="normal" fill="#111" textLength="10.70" lengthAdjust="spacingAndGlyphs">0.1</text><text x="338.62" y="307.00" font-size="11" font-weight="normal" fill="#111" textLength="10.70" lengthAdjust="spacingAndGlyphs">0.5</text><text x="350.31" y="307.00" font-size="11" font-weight="normal" fill="#111" textLength="4.28" lengthAdjust="spacingAndGlyphs">1</text><text x="358.78" y="307.00" font-size="11" font-weight="normal" fill="#111" textLength="4.28" lengthAdjust="spacingAndGlyphs">2</text><text x="376.32" y="307.00" font-size="11" font-weight="normal" fill="#111" textLength="8.56" lengthAdjust="spacingAndGlyphs">10</text><text x="299.80" y="317.50" font-size="10.5" font-weight="normal" fill="#44c844" textLength="48.80" lengthAdjust="spacingAndGlyphs">Favours IV Iron</text><text x="356.60" y="317.50" font-size="10.5" font-weight="normal" fill="#a83a3a" textLength="55.40" lengthAdjust="spacingAndGlyphs">Favours Oral Iron</text><text x="10.9" y="318.4" font-family="Liberation Serif" font-weight="bold" font-size="14.8" textLength="6.6" lengthAdjust="spacingAndGlyphs">a</text><text x="466.12" y="205.00" font-size="10" font-weight="normal" fill="#333" textLength="14.40" lengthAdjust="spacingAndGlyphs">0.05</text><text x="489.07" y="205.00" font-size="10" font-weight="normal" fill="#333" textLength="14.40" lengthAdjust="spacingAndGlyphs">0.10</text><text x="512.02" y="205.00" font-size="10" font-weight="normal" fill="#333" textLength="14.40" lengthAdjust="spacingAndGlyphs">0.20</text><text x="542.35" y="205.00" font-size="10" font-weight="normal" fill="#333" textLength="14.40" lengthAdjust="spacingAndGlyphs">0.50</text><text x="565.30" y="205.00" font-size="10" font-weight="normal" fill="#333" textLength="14.40" lengthAdjust="spacingAndGlyphs">1.00</text><text x="588.25" y="205.00" font-size="10" font-weight="normal" fill="#333" textLength="14.40" lengthAdjust="spacingAndGlyphs">2.00</text><text x="618.58" y="205.00" font-size="10" font-weight="normal" fill="#333" textLength="14.40" lengthAdjust="spacingAndGlyphs">5.00</text><text x="662.42" y="205.00" font-size="10" font-weight="normal" fill="#333" textLength="18.52" lengthAdjust="spacingAndGlyphs">20.00</text><text x="547.55" y="223.20" font-size="10.5" font-weight="normal" fill="#333" textLength="38.10" lengthAdjust="spacingAndGlyphs">Odds Ratio</text><text transform="translate(442.7,140.7) rotate(-90)" x="0" y="0" text-anchor="middle" font-size="9.5" fill="#222" textLength="10.2" lengthAdjust="spacingAndGlyphs">0.5</text><text transform="translate(442.7,176.9) rotate(-90)" x="0" y="0" text-anchor="middle" font-size="9.5" fill="#222" textLength="10.2" lengthAdjust="spacingAndGlyphs">1.5</text><text transform="translate(424.2,152.9) rotate(-90)" x="0" y="0" text-anchor="middle" font-size="9.5" fill="#222" textLength="56.3" lengthAdjust="spacingAndGlyphs">Standard Error</text><text x="651.60" y="138.20" font-size="10" font-weight="normal" fill="#333" textLength="19.74" lengthAdjust="spacingAndGlyphs">p&lt;0.1</text><text x="651.60" y="148.80" font-size="10" font-weight="normal" fill="#333" textLength="24.07" lengthAdjust="spacingAndGlyphs">p&lt;0.05</text><text x="651.60" y="159.70" font-size="10" font-weight="normal" fill="#333" textLength="24.07" lengthAdjust="spacingAndGlyphs">p&lt;0.01</text><text x="441.2" y="240" font-family="Liberation Serif" font-weight="bold" font-size="14.6" textLength="7.9" lengthAdjust="spacingAndGlyphs">b</text></g>
</svg>
</body></html>
